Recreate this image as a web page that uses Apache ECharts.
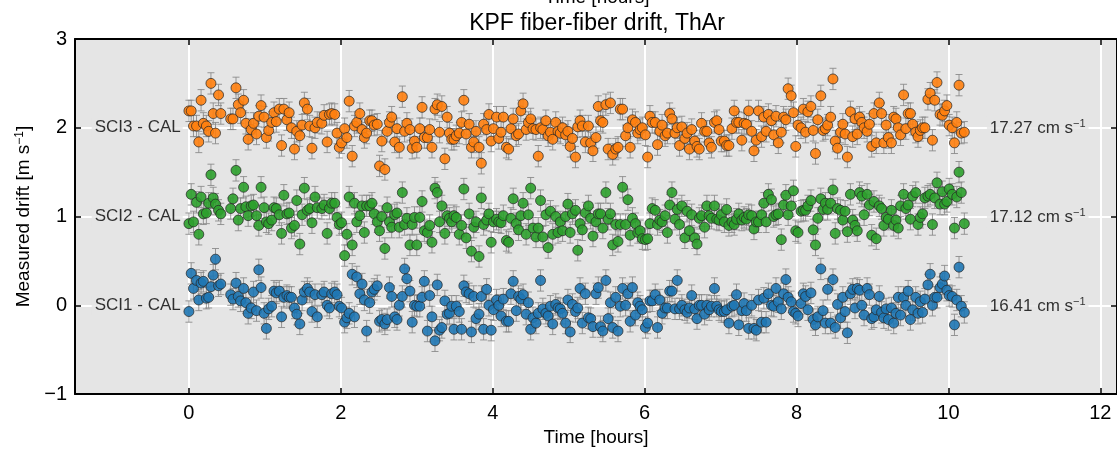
<!DOCTYPE html>
<html>
<head>
<meta charset="utf-8">
<title>KPF fiber-fiber drift, ThAr</title>
<script src="https://cdn.jsdelivr.net/npm/echarts@6/dist/echarts.min.js"></script>
<style>
    html, body { margin: 0; padding: 0; background: #fff; }
    #chart { width: 1117px; height: 452px; }
</style>
</head>
<body>
<div id="chart"></div>
<script>
// exposure times [hours], shared by the three fibers
var timeHours = [
    0.00,0.03,0.06,0.10,0.13,0.16,0.19,0.23,0.26,0.29,0.32,0.35,0.39,0.42,
    0.55,0.58,0.62,0.65,0.68,0.72,0.75,0.78,0.82,0.85,0.89,0.92,0.95,0.99,1.02,1.05,1.09,1.12,1.15,1.19,
    1.22,1.25,1.29,1.32,1.35,1.39,1.42,1.46,1.49,1.52,1.56,1.59,1.62,1.66,1.69,
    1.75,1.78,1.82,1.85,1.88,1.92,1.95,1.98,2.01,2.05,2.08,2.11,2.15,2.18,2.21,2.25,2.28,2.31,2.34,2.38,
    2.41,2.44,2.48,2.51,2.54,2.58,2.61,2.64,2.67,2.71,2.74,2.77,2.81,2.84,2.87,2.91,2.94,2.97,3.00,3.04,
    3.07,3.10,3.14,3.17,3.20,3.24,3.27,3.30,3.33,3.37,3.40,3.43,3.46,
    3.49,3.52,3.56,3.59,3.62,3.65,3.69,3.72,3.75,3.78,3.82,3.85,3.88,3.92,3.95,3.98,4.01,4.05,4.08,4.11,
    4.14,4.18,4.21,4.24,4.27,4.31,4.34,4.37,4.40,4.44,4.47,4.50,4.53,4.57,4.60,4.63,4.66,4.70,4.73,4.76,
    4.79,4.83,4.86,4.89,4.92,4.96,4.99,5.02,5.05,5.09,5.12,5.15,5.18,5.22,
    5.26,5.29,5.32,5.36,5.39,5.42,5.45,5.49,5.52,5.55,5.58,5.62,5.65,5.68,5.71,5.75,5.78,5.81,5.84,5.88,
    5.91,5.94,5.97,6.01,6.04,6.07,6.10,6.14,6.17,6.20,6.23,6.27,6.30,6.33,6.36,6.40,6.43,6.46,6.49,6.53,
    6.56,6.59,6.62,6.66,6.69,6.72,6.75,6.79,6.82,6.85,6.88,6.92,6.95,6.98,7.01,
    7.05,7.08,7.11,7.15,7.18,7.21,7.24,7.28,7.31,7.34,7.37,7.41,7.44,7.47,7.50,7.54,7.57,7.60,7.63,7.67,
    7.70,7.73,7.76,7.80,7.83,7.86,7.89,7.93,7.96,7.99,8.02,8.06,8.09,8.12,8.15,8.19,8.22,8.25,8.28,8.32,
    8.35,8.38,8.41,8.45,8.48,8.51,8.54,8.58,8.61,8.64,8.67,8.71,8.74,8.77,8.80,
    8.83,8.86,8.89,8.93,8.96,8.99,9.02,9.05,9.09,9.12,9.15,9.18,9.21,9.25,9.28,9.31,9.34,9.37,9.41,9.44,
    9.47,9.50,9.53,9.57,9.60,9.63,9.66,9.69,9.73,9.76,9.79,9.82,9.85,9.89,9.92,9.95,9.98,10.01,10.05,10.08,
    10.11,10.14,10.17,10.21
];

// SCI3 - CAL drift [m/s], offset +2
var sci3 = [
    2.19,2.19,2.02,2.02,1.84,2.31,2.05,2.02,1.96,2.50,2.16,1.94,2.37,2.16,
    2.10,2.10,2.45,2.26,2.17,2.31,2.05,1.87,1.98,2.05,1.93,2.13,2.25,2.12,1.89,1.97,2.06,2.17,2.07,2.21,
    1.80,2.21,2.09,2.17,2.00,1.76,1.96,1.91,2.03,2.28,2.21,2.02,1.77,2.00,2.06,
    2.05,2.14,1.84,2.15,2.16,2.15,1.94,1.78,1.83,1.99,1.89,2.30,1.68,2.02,2.06,2.16,1.98,1.89,1.94,2.08,
    2.08,2.03,2.04,1.57,1.85,1.53,1.96,2.06,2.12,1.84,1.99,1.78,2.35,1.96,2.05,1.98,1.77,1.85,1.78,1.99,
    2.23,1.89,1.89,1.98,1.78,2.21,2.26,1.95,2.24,1.65,2.12,1.94,1.87,
    1.87,1.91,1.94,2.06,2.31,1.93,2.04,1.78,1.84,1.96,1.78,1.60,2.04,1.98,2.15,1.85,1.99,2.12,1.88,1.95,
    2.12,1.78,1.76,1.99,2.10,1.91,1.93,2.19,2.27,1.98,2.06,2.10,1.99,1.98,1.68,2.00,1.98,2.08,1.91,1.95,
    1.87,2.06,1.96,1.94,2.00,1.92,1.96,1.79,1.88,1.67,2.01,2.08,2.02,1.84,
    2.02,1.83,1.74,1.89,2.24,2.08,2.06,2.26,1.76,2.28,1.70,1.76,1.78,2.21,2.21,1.91,2.00,1.78,2.09,2.06,
    1.94,1.98,2.00,1.92,1.67,2.13,2.06,2.06,1.81,1.96,2.03,1.91,1.94,2.16,2.10,1.94,2.00,1.80,2.01,1.88,
    1.94,1.76,1.98,1.85,1.79,1.76,2.05,1.96,1.96,1.83,1.78,2.06,2.08,1.98,1.85,
    1.85,1.80,1.80,1.99,2.19,2.06,2.06,1.86,2.05,2.04,2.19,1.96,1.74,1.86,2.19,1.90,2.12,1.96,2.15,2.08,
    1.92,2.13,1.83,1.95,2.12,2.09,2.44,2.36,2.17,1.79,2.03,2.00,2.21,1.95,2.18,2.24,1.97,1.71,2.09,2.36,
    1.97,1.99,2.03,2.12,2.55,1.85,1.77,1.95,2.04,1.93,1.67,2.18,1.90,2.10,1.93,
    2.12,2.06,2.00,1.96,2.04,1.79,2.16,1.83,2.28,2.16,1.83,2.03,1.89,1.83,2.12,2.10,2.00,1.92,2.37,1.99,
    2.16,2.16,2.04,1.95,1.90,1.97,2.00,2.00,2.32,2.39,1.86,2.31,2.51,2.15,2.14,2.19,2.25,2.03,2.00,1.83,
    2.06,2.48,1.94,1.95
];

// SCI2 - CAL drift [m/s], offset +1
var sci2 = [
    0.92,1.25,0.94,1.16,0.80,1.22,1.03,1.04,1.15,1.47,1.21,1.14,1.07,1.03,
    1.09,1.20,1.52,0.96,1.09,1.33,1.11,1.01,1.12,1.13,1.01,0.90,1.33,1.10,0.94,0.92,0.96,1.10,1.09,1.02,
    0.81,1.24,1.03,1.04,0.87,0.90,1.18,0.69,1.02,1.32,1.07,1.09,0.93,1.22,1.10,
    1.09,1.13,0.81,1.09,1.15,1.15,0.99,0.91,0.93,0.56,0.80,1.22,0.68,1.15,0.94,1.01,1.12,0.82,1.12,1.12,
    1.15,1.03,0.94,0.84,1.00,0.64,1.10,0.94,0.88,1.02,1.04,0.88,1.27,0.91,0.98,0.68,0.91,0.99,0.68,0.99,
    1.17,0.84,0.82,0.90,0.71,1.32,1.27,0.94,1.12,0.81,1.01,0.98,0.94,
    1.01,0.99,0.80,0.90,1.31,0.76,1.03,0.61,0.88,0.94,0.55,1.21,0.91,0.96,1.03,0.71,0.94,0.97,0.94,0.93,
    1.01,0.73,0.71,0.98,1.20,0.92,0.85,1.01,1.15,0.80,1.02,1.32,0.87,0.77,0.87,1.18,0.77,1.02,0.65,1.06,
    0.80,1.00,0.82,0.94,0.84,1.00,1.14,0.82,1.03,1.07,0.62,0.92,0.85,1.04,
    1.12,0.98,0.78,0.94,1.03,1.03,0.87,1.27,0.97,1.03,0.68,0.91,0.72,0.91,1.33,0.91,1.19,0.79,0.98,0.92,
    0.82,0.84,0.75,0.74,0.75,0.92,1.09,1.07,0.91,0.96,0.94,1.01,0.82,1.13,1.27,0.97,1.08,0.91,1.12,0.76,
    1.06,0.84,1.02,0.76,0.69,0.98,1.01,0.88,1.12,1.01,0.98,1.12,0.97,0.96,1.02,
    0.94,1.08,0.90,0.94,0.91,0.97,1.03,0.96,0.99,0.97,1.02,1.01,0.86,0.94,0.94,1.02,1.15,0.94,1.25,1.19,
    1.00,1.02,1.03,0.74,1.13,1.24,1.02,1.12,1.29,0.84,0.82,1.06,1.07,1.07,1.12,1.18,0.85,0.68,0.98,1.20,
    1.08,1.15,1.08,1.15,1.30,0.81,1.09,1.07,0.96,1.06,0.83,1.25,0.96,0.90,0.84,
    1.27,1.23,1.02,1.25,1.13,0.79,1.17,0.75,1.12,1.09,0.90,0.99,0.97,1.07,0.90,0.96,0.87,1.12,1.25,1.09,
    1.13,0.97,1.23,1.27,0.91,0.99,1.03,1.21,1.23,1.25,0.91,1.21,1.38,1.14,1.28,1.14,1.17,1.31,1.25,0.87,
    1.22,1.50,1.27,0.92
];

// SCI1 - CAL drift [m/s], no offset
var sci1 = [
    -0.07,0.36,0.19,0.28,0.06,0.25,0.27,0.08,0.09,0.21,0.34,0.52,0.22,0.24,
    0.12,0.07,0.25,0.10,0.05,0.19,0.03,-0.09,-0.03,0.15,-0.06,0.40,0.20,-0.09,-0.26,-0.04,-0.01,0.16,0.14,0.16,
    -0.13,0.09,0.11,0.09,0.09,-0.03,-0.10,-0.21,0.06,0.15,0.19,0.15,-0.07,0.12,-0.13,
    0.12,0.15,0.00,-0.03,0.13,0.15,0.12,-0.01,-0.03,-0.19,-0.14,-0.09,0.35,-0.13,0.32,0.13,0.24,0.06,-0.29,0.03,
    0.15,0.18,0.22,-0.18,-0.16,-0.21,-0.16,0.20,0.10,-0.13,-0.16,0.00,0.10,0.41,0.30,0.16,-0.19,0.00,-0.01,-0.01,
    0.09,0.27,-0.29,0.11,-0.13,-0.40,0.23,-0.28,-0.25,0.05,-0.10,-0.09,-0.01,
    -0.27,-0.01,-0.07,-0.27,0.22,0.15,0.13,-0.30,0.10,-0.15,-0.10,0.10,-0.27,0.18,0.00,-0.28,-0.05,0.06,0.00,-0.12,
    0.07,-0.18,-0.18,0.13,0.27,-0.06,0.10,0.07,0.12,-0.10,0.03,-0.27,-0.14,-0.20,-0.09,0.28,-0.04,-0.09,-0.12,-0.01,
    -0.21,0.01,-0.03,-0.04,-0.09,-0.20,0.06,-0.30,0.01,-0.07,-0.03,0.19,-0.20,0.13,
    -0.14,-0.15,-0.24,0.13,0.20,-0.24,-0.29,0.28,-0.15,0.03,-0.25,0.09,-0.29,-0.01,0.19,0.00,0.13,-0.18,0.20,-0.11,
    0.03,-0.01,-0.05,-0.25,-0.20,0.05,0.05,0.12,-0.25,0.06,-0.09,-0.03,-0.03,0.16,0.16,-0.04,0.28,-0.04,0.00,-0.05,
    -0.08,-0.03,0.11,-0.04,-0.15,0.00,0.00,-0.10,0.00,-0.05,-0.01,0.19,-0.01,-0.05,-0.07,
    -0.07,-0.05,-0.20,-0.01,0.00,0.12,-0.22,-0.06,0.02,-0.06,-0.26,0.00,-0.26,-0.28,0.06,-0.19,0.08,-0.19,0.13,0.00,
    -0.01,0.19,0.04,-0.04,0.13,0.29,0.09,0.04,-0.07,-0.09,-0.12,0.02,0.13,0.10,-0.05,0.14,-0.16,-0.22,-0.13,0.41,
    -0.06,-0.20,0.18,-0.20,0.29,-0.25,0.01,-0.14,0.09,-0.07,-0.31,0.13,0.18,-0.03,0.19,
    0.17,0.00,-0.11,0.19,0.12,-0.15,-0.13,-0.05,0.10,-0.08,-0.14,-0.04,-0.16,-0.03,-0.20,-0.09,0.09,-0.11,0.09,0.00,
    0.16,-0.16,-0.05,0.09,-0.09,0.04,-0.08,0.07,0.23,0.35,0.00,0.09,0.09,0.20,0.24,0.33,0.17,0.11,0.10,-0.22,
    0.06,0.43,-0.01,-0.08
];

// typical 1-sigma error of one point [m/s]
var sci3Err = 0.12;
var sci2Err = 0.12;
var sci1Err = 0.12;

var rowNames = ['SCI3 - CAL', 'SCI2 - CAL', 'SCI1 - CAL'];
var rowLevels = [2, 1, 0];
var rowRms = ['17.27', '17.12', '16.41'];

var xTicks = [0, 2, 4, 6, 8, 10, 12];

var FONT = '"Liberation Sans", Arial, sans-serif';
var BG = '#e5e5e5';

var Chart = function () {
    var myChart = echarts.init(document.getElementById('chart'), null, {renderer: 'canvas'});

    var rows = function (vals, err) {
        var out = [];
        for (var i = 0; i < timeHours.length; i++) {
            out.push([timeHours[i], vals[i], err]);
        }
        return out;
    };

    //误差棒
    var errBar = function (params, api) {
        var x = api.value(0), y = api.value(1), e = api.value(2);
        var hi = api.coord([x, y + e]);
        var lo = api.coord([x, y - e]);
        var st = {stroke: '#878787', lineWidth: 1, opacity: 0.85};
        return {
            type: 'group',
            children: [
                {type: 'line', shape: {x1: hi[0], y1: hi[1], x2: lo[0], y2: lo[1]}, style: st},
                {type: 'line', shape: {x1: hi[0] - 3.5, y1: hi[1], x2: hi[0] + 3.5, y2: hi[1]}, style: st},
                {type: 'line', shape: {x1: lo[0] - 3.5, y1: lo[1], x2: lo[0] + 3.5, y2: lo[1]}, style: st}
            ]
        };
    };

    var errSeries = function (data) {
        return {
            type: 'custom',
            renderItem: errBar,
            data: data,
            encode: {x: 0, y: 1},
            silent: true,
            z: 2
        };
    };

    var dotSeries = function (name, data, color) {
        return {
            name: name,
            type: 'scatter',
            data: data,
            symbol: 'circle',
            symbolSize: 10,
            itemStyle: {color: color, borderColor: '#262626', borderWidth: 0.8, opacity: 0.9},
            z: 3
        };
    };

    var minus = function (v) {
        return v < 0 ? '\u2212' + (-v) : String(v);
    };

    var leftLabels = rowNames.map(function (n, i) {
        return {name: n, value: [-0.075, rowLevels[i]]};
    });
    var rightLabels = rowRms.map(function (r, i) {
        return {name: r, value: [10.5, rowLevels[i]]};
    });

    var tickStyle = {show: true, inside: true, length: 6, lineStyle: {color: '#000', width: 1.5}};
    var lineStyle = {show: true, onZero: false, lineStyle: {color: '#000', width: 2}};

    var option = {
        animation: false,
        backgroundColor: '#fff',
        textStyle: {fontFamily: FONT},
        title: [
            {
                text: 'KPF fiber-fiber drift, ThAr',
                left: 597, top: 12, textAlign: 'center', padding: 0,
                textStyle: {fontFamily: FONT, fontSize: 23, fontWeight: 'normal', color: '#000'}
            },
            {
                text: 'Time [hours]',
                left: 597, top: -12, textAlign: 'center', padding: 0,
                textStyle: {fontFamily: FONT, fontSize: 19, fontWeight: 'normal', color: '#000'}
            }
        ],
        grid: {
            left: 75, right: -3, top: 39, bottom: 56,
            show: true, backgroundColor: BG, borderWidth: 0
        },
        xAxis: [
            {
                type: 'value', min: -1.5, max: 12.22, position: 'bottom',
                name: 'Time [hours]', nameLocation: 'middle', nameGap: 20,
                nameTextStyle: {fontFamily: FONT, fontSize: 19, color: '#000'},
                axisLine: lineStyle,
                axisTick: Object.assign({customValues: xTicks}, tickStyle),
                axisLabel: {customValues: xTicks, fontFamily: FONT, fontSize: 20, color: '#000', margin: 9},
                splitLine: {show: true, lineStyle: {color: '#fff', width: 2}}
            },
            {
                type: 'value', min: -1.5, max: 12.22, position: 'top',
                axisLine: lineStyle,
                axisTick: Object.assign({customValues: xTicks}, tickStyle),
                axisLabel: {show: false},
                splitLine: {show: false}
            }
        ],
        yAxis: [
            {
                type: 'value', min: -1, max: 3, interval: 1, position: 'left',
                name: 'Measured drift [m s{sup|\u22121}]', nameLocation: 'middle', nameGap: 39, nameRotate: 90,
                nameTextStyle: {
                    fontFamily: FONT, fontSize: 19, color: '#000',
                    rich: {sup: {fontFamily: FONT, fontSize: 12, color: '#000', verticalAlign: 'top', padding: [0, 0, 8, 0]}}
                },
                axisLine: lineStyle,
                axisTick: tickStyle,
                axisLabel: {fontFamily: FONT, fontSize: 20, color: '#000', margin: 8, formatter: minus},
                splitLine: {show: true, lineStyle: {color: '#fff', width: 2}}
            },
            {
                type: 'value', min: -1, max: 3, interval: 1, position: 'right',
                axisLine: lineStyle,
                axisTick: tickStyle,
                axisLabel: {show: false},
                splitLine: {show: false}
            }
        ],
        series: [
            errSeries(rows(sci1, sci1Err)),
            errSeries(rows(sci2, sci2Err)),
            errSeries(rows(sci3, sci3Err)),
            dotSeries('SCI1 - CAL', rows(sci1, sci1Err), '#1f77b4'),
            dotSeries('SCI2 - CAL', rows(sci2, sci2Err), '#2ca02c'),
            dotSeries('SCI3 - CAL', rows(sci3, sci3Err), '#ff7f0e'),
            {
                type: 'scatter', data: leftLabels, symbolSize: 1, silent: true,
                itemStyle: {color: 'rgba(0,0,0,0)'},
                label: {
                    show: true, position: 'left', distance: 0, formatter: '{b}',
                    fontFamily: FONT, fontSize: 17, color: '#000',
                    backgroundColor: BG, padding: [2, 2, 1, 3]
                },
                z: 4
            },
            {
                type: 'scatter', data: rightLabels, symbolSize: 1, silent: true,
                itemStyle: {color: 'rgba(0,0,0,0)'},
                label: {
                    show: true, position: 'right', distance: 0,
                    formatter: '{a|{b} cm s}{s|\u22121}',
                    backgroundColor: BG, padding: [2, 3, 1, 3],
                    rich: {
                        a: {fontFamily: FONT, fontSize: 17, color: '#000'},
                        s: {fontFamily: FONT, fontSize: 11, color: '#000', verticalAlign: 'top', padding: [0, 0, 8, 0]}
                    }
                },
                z: 4
            }
        ]
    };

    myChart.setOption(option);
    return {
        init: function () {}
    };
}();
Chart.init();
</script>
</body>
</html>
